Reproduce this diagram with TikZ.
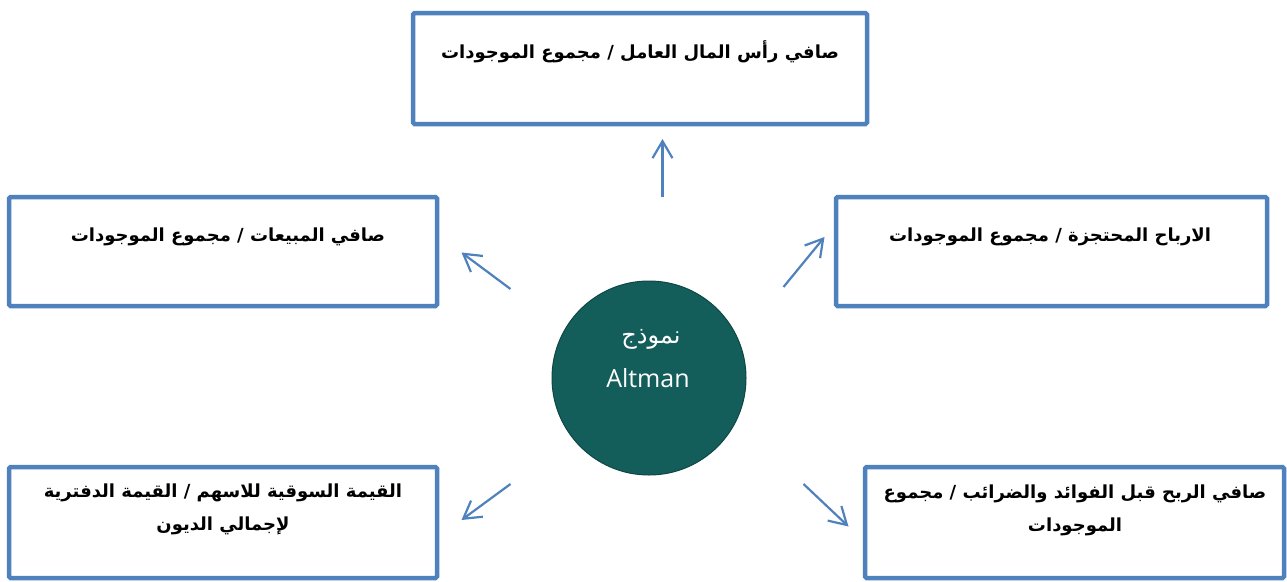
\documentclass[tikz,border=0pt]{standalone}
\usepackage{fontspec}
\usetikzlibrary{arrows.meta}
\TeXXeTstate=1
\newfontfamily\arabicfont[Script=Arabic]{DejaVu Sans}
\newfontfamily\latinsans{Open Sans}
\definecolor{boxblue}{HTML}{4F81BD}
\definecolor{circfill}{HTML}{135E5A}
\definecolor{circline}{HTML}{0E4744}
\begin{document}
\begin{tikzpicture}[x=1pt,y=-1pt,
  box/.style={draw=boxblue, line width=4.5pt, rounded corners=1.5pt, inner sep=0pt},
  lbl/.style={font=\arabicfont\bfseries\fontsize{18}{33}\selectfont, align=center, text=black, inner sep=0pt},
  arr/.style={draw=boxblue, line width=2.2pt, -{Straight Barb[length=17pt,width=20pt]}}
]
\useasboundingbox (0,0) rectangle (1287,581);
% boxes
\node[box, minimum width=454pt, minimum height=111pt] (btop) at (640,68.5) {};
\node[box, minimum width=428pt, minimum height=109pt] (bleft) at (223,251.5) {};
\node[box, minimum width=431pt, minimum height=109pt] (bright) at (1051.5,251.5) {};
\node[box, minimum width=428pt, minimum height=111pt] (bbl) at (223,522.5) {};
\node[box, minimum width=419pt, minimum height=111pt] (bbr) at (1074.5,522.5) {};
% labels
\node[lbl] (ttop) at (640,52) {\beginR صافي رأس المال العامل / مجموع الموجودات\endR};
\node[lbl] (tleft) at (228,237) {\beginR صافي المبيعات / مجموع الموجودات\endR};
\node[lbl] (tright) at (1050,237) {\beginR الارباح المحتجزة / مجموع الموجودات\endR};
\node[lbl] (tbl) at (223,509) {\beginR القيمة السوقية للاسهم / القيمة الدفترية\endR\\\beginR لإجمالي الديون\endR};
\node[lbl] (tbr) at (1075,510) {\beginR صافي الربح قبل الفوائد والضرائب / مجموع\endR\\\beginR الموجودات\endR};
% circle
\node[circle, draw=circline, line width=1pt, fill=circfill, minimum size=194pt, inner sep=0pt] (c) at (649,378) {};
\node[text=white, font=\arabicfont\fontsize{24}{28}\selectfont, inner sep=0pt] (cart) at (651,339) {\beginR نموذج\endR};
\node[text=white, font=\latinsans\fontsize{25}{30}\selectfont, inner sep=0pt] (calt) at (648,378) {Altman};
% arrow endpoints
\coordinate (a1s) at (662.5,197); \coordinate (a1e) at (662.5,139);
\coordinate (a2s) at (510.5,289); \coordinate (a2e) at (461.5,252.5);
\coordinate (a3s) at (783.5,287); \coordinate (a3e) at (824.5,237);
\coordinate (a4s) at (510.5,484); \coordinate (a4e) at (461.5,520);
\coordinate (a5s) at (803.5,484); \coordinate (a5e) at (848.5,526.5);
\draw[arr] (a1s) -- (a1e);
\draw[arr] (a2s) -- (a2e);
\draw[arr] (a3s) -- (a3e);
\draw[arr] (a4s) -- (a4e);
\draw[arr] (a5s) -- (a5e);
\end{tikzpicture}
\end{document}
